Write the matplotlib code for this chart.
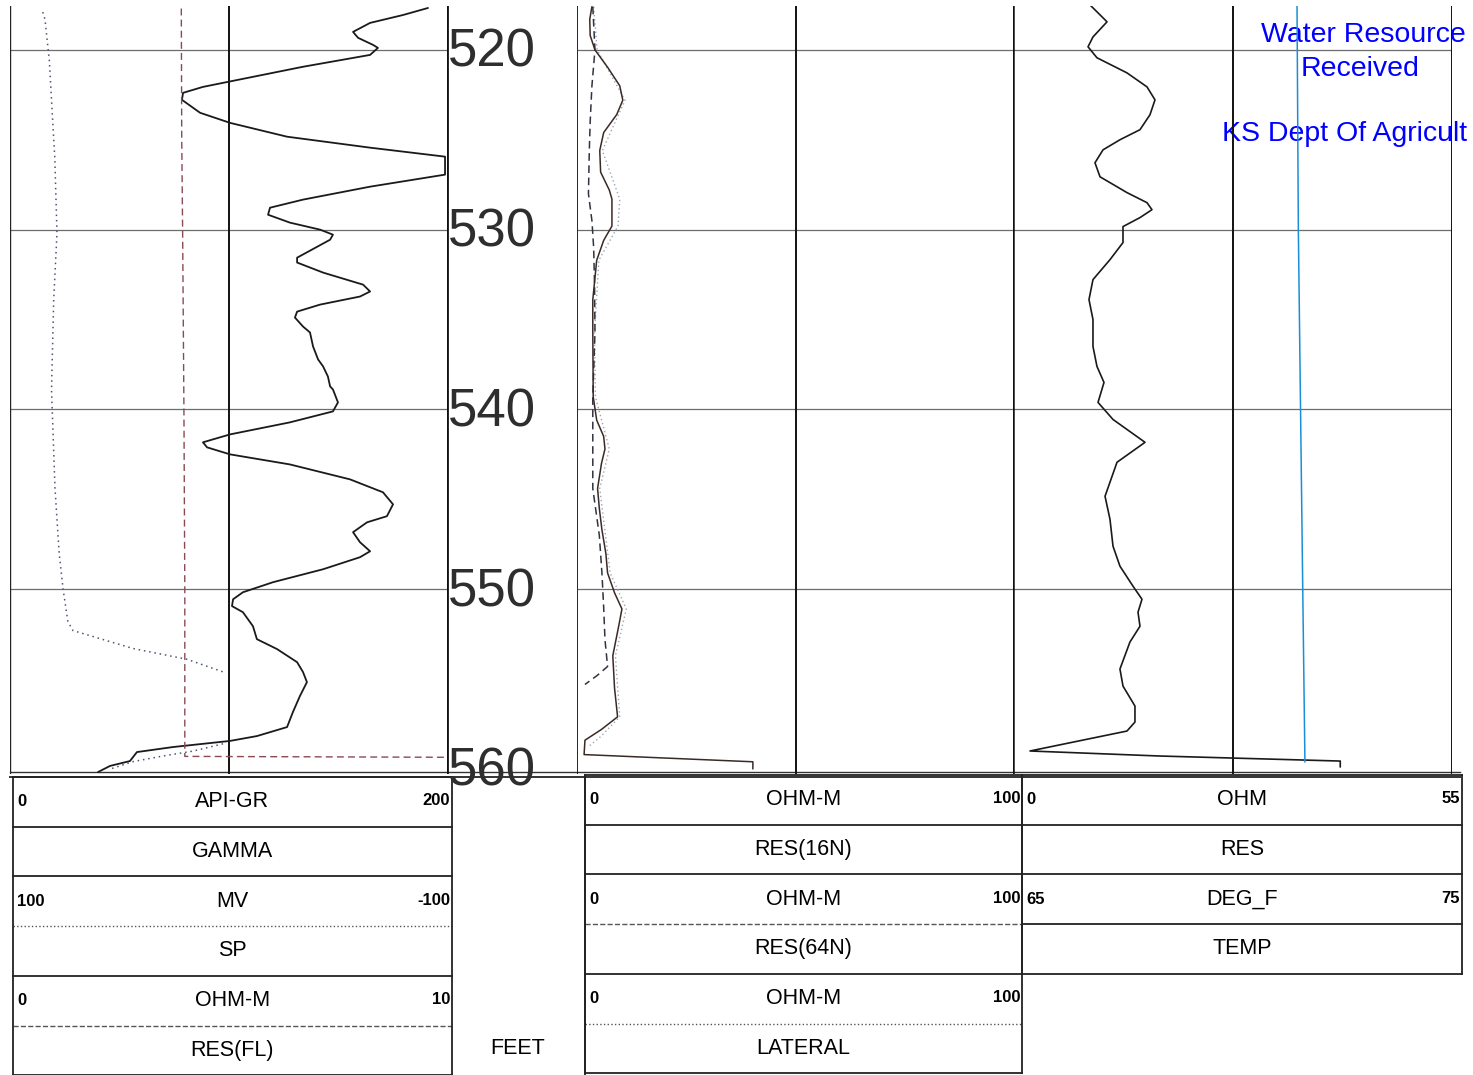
import numpy as np
import matplotlib
matplotlib.use('Agg')
import matplotlib.pyplot as plt
from matplotlib.transforms import offset_copy

plt.rcParams['font.family'] = ['Liberation Sans', 'DejaVu Sans']

W, H = 1473, 1075

# depth range of the log tracks (feet)
TOP, BOT = 517.56, 560.28
depth_ticks = [520, 530, 540, 550, 560]

# track 1 : gamma ray (API), SP (mV), RES(FL) (ohm-m)
gr_depth = [517.67, 518.06, 518.5, 519.0, 519.33, 519.72, 519.89, 520.28, 520.94, 521.5, 522.06, 522.39,
            522.78, 523.5, 524.06, 524.83, 525.44, 525.94, 526.94, 527.61, 528.33, 528.78, 529.17, 529.61,
            530.0, 530.28, 530.56, 531.56, 531.83, 532.39, 533.06, 533.44, 533.72, 534.17, 534.56, 534.89,
            535.39, 535.72, 536.5, 537.22, 537.61, 538.17, 538.72, 538.89, 539.61, 540.11, 540.72, 541.39,
            541.83, 542.11, 542.5, 543.06, 543.89, 544.61, 545.28, 545.94, 546.28, 546.83, 547.39, 547.89,
            548.22, 548.89, 549.61, 550.17, 550.56, 550.94, 551.28, 552.06, 552.78, 553.33, 554.06, 554.61,
            555.17, 555.94, 556.83, 557.67, 558.17, 558.44, 558.78, 559.06, 559.56, 559.83, 560.17]
gr_api = [191.3, 179.9, 164.8, 157.0, 159.3, 166.1, 168.4, 164.8, 134.1, 111.2, 88.3, 79.2,
          78.7, 87.0, 100.7, 126.8, 164.8, 199.1, 199.1, 164.8, 134.1, 119.0, 118.1, 128.1,
          141.9, 147.8, 146.5, 131.4, 131.4, 143.3, 161.6, 164.8, 160.2, 141.9, 131.4, 130.4,
          134.1, 137.3, 138.7, 141.0, 143.3, 145.5, 146.5, 147.8, 150.1, 147.8, 128.1, 100.7,
          88.3, 90.2, 100.7, 128.1, 155.6, 170.7, 175.3, 172.5, 163.4, 157.0, 160.2, 164.8,
          160.2, 143.3, 120.4, 106.6, 102.1, 101.6, 106.6, 111.2, 113.0, 122.2, 131.4, 134.1,
          135.9, 132.7, 129.5, 126.8, 113.0, 100.7, 74.6, 58.1, 54.9, 45.8, 40.3]

sp_depth = [517.9, 518.3, 520.6, 522.8, 526.0, 530.2, 533.9, 538.9, 544.4, 548.0, 550.0, 551.8,
            552.3, 553.3, 553.9, 554.6, np.nan, 558.6, 559.0, 559.3, 559.6, 560.0]
sp_mv = [85, 84, 82, 81, 79.5, 78.5, 80, 81, 79.4, 77.5, 75.7, 73.5,
         71.2, 43.7, 19, 2.5, np.nan, 2.5, 16, 31, 44, 54]

fl_depth = [517.7, 525.0, 530.0, 540.0, 550.0, 559.0, 559.3, 559.35]
fl_ohm = [3.92, 3.93, 3.95, 3.98, 4.0, 4.0, 4.0, 9.95]

# track 2 : RES(16N), RES(64N), LATERAL (ohm-m)
n16_depth = [517.6, 518.3, 519.2, 520.0, 521.0, 522.0, 522.8, 523.6, 524.6, 525.6, 526.8, 527.8,
             528.3, 529.8, 530.6, 531.7, 533.9, 535.7, 539.3, 540.6, 541.5, 542.2, 543.0, 544.4,
             545.5, 546.7, 548.0, 549.1, 550.2, 551.1, 552.0, 553.7, 555.5, 557.1, 557.8, 558.4,
             559.2, 559.6, 560.0]
n16_ohm = [3.2, 2.7, 2.8, 3.9, 6.9, 9.6, 10.3, 8.9, 5.9, 5.0, 5.2, 7.2,
           7.8, 7.8, 5.9, 4.3, 3.4, 3.4, 3.5, 4.3, 5.9, 6.2, 5.4, 4.5,
           4.9, 5.5, 6.4, 6.8, 8.4, 10.1, 9.4, 8.0, 8.4, 9.1, 5.4, 1.6,
           1.4, 40.2, 40.2]

n64_depth = [517.6, 520.0, 522.0, 524.0, 525.6, 528.0, 529.5, 531.0, 533.0, 535.7, 539.3, 542.0,
             544.4, 547.0, 549.1, 551.0, 552.8, 554.3, 554.8, 555.3]
n64_ohm = [3.4, 3.9, 3.2, 2.8, 2.6, 2.4, 3.2, 3.6, 3.8, 3.9, 3.4, 3.4,
           3.4, 4.9, 5.5, 5.9, 6.2, 6.8, 4.4, 1.6]

lat_depth = [517.6, 520.0, 522.8, 525.6, 528.3, 529.8, 531.7, 535.7, 539.3, 542.2, 544.4, 549.1,
             551.1, 553.7, 557.1, 558.2, 558.8]
lat_ohm = [3.6, 4.4, 10.8, 5.6, 9.6, 9.2, 4.8, 3.8, 4.0, 7.2, 5.0, 7.4,
           11.1, 8.6, 9.6, 5.2, 2.2]

# track 3 : RES (ohm) and TEMP (deg F)
res_depth = [517.5, 518.44, 519.28, 519.83, 520.44, 521.28, 522.06, 522.78, 523.61, 524.44, 525.0, 525.56,
             526.28, 527.06, 527.94, 528.5, 528.89, 529.33, 529.83, 530.72, 531.67, 532.78, 533.89, 535.0,
             536.5, 537.61, 538.5, 539.61, 540.56, 541.83, 542.94, 544.83, 546.11, 547.61, 548.72, 549.83,
             550.56, 551.28, 552.06, 552.94, 554.44, 555.39, 556.5, 557.39, 557.89, 559.0, 559.28, 559.56,
             559.89]
res_ohm = [9.65, 11.78, 10.02, 9.4, 10.52, 14.28, 16.79, 17.79, 17.16, 15.91, 13.4, 11.28,
           10.27, 10.9, 14.28, 16.79, 17.41, 15.91, 13.78, 13.78, 12.15, 10.02, 9.52, 10.02,
           10.02, 10.52, 11.4, 10.65, 12.53, 16.54, 13.03, 11.53, 12.15, 12.53, 13.4, 15.03,
           16.16, 15.66, 15.91, 14.65, 13.4, 13.78, 15.28, 15.28, 14.28, 2.13, 18.4, 41.0,
           41.0]

temp_depth = [517.6, 530.0, 540.0, 550.0, 559.6]
temp_degf = [71.47, 71.5, 71.55, 71.6, 71.65]

# header blocks: (units, scale left, scale right, line style, curve name)
head1 = [('API-GR', '0', '200', '-', 'GAMMA'),
         ('MV', '100', '-100', ':', 'SP'),
         ('OHM-M', '0', '10', '--', 'RES(FL)')]
head2 = [('OHM-M', '0', '100', '-', 'RES(16N)'),
         ('OHM-M', '0', '100', '--', 'RES(64N)'),
         ('OHM-M', '0', '100', ':', 'LATERAL')]
head3 = [('OHM', '0', '55', '-', 'RES'),
         ('DEG_F', '65', '75', '-', 'TEMP')]

fig = plt.figure(figsize=(W / 100, H / 100), dpi=100)

# background axes in pixel units for frame and header
bg = fig.add_axes([0, 0, 1, 1])
bg.set_xlim(0, W)
bg.set_ylim(H, 0)
bg.axis('off')


def track(x0, x1, y0=6, y1=774):
    ax = fig.add_axes([x0 / W, 1 - y1 / H, (x1 - x0) / W, (y1 - y0) / H])
    ax.set_ylim(BOT, TOP)
    ax.patch.set_alpha(0)
    ax.set_xticks([])
    ax.set_yticks([])
    for s in ax.spines.values():
        s.set_visible(False)
    return ax


def twin(ax, lim):
    t = ax.twiny()
    t.set_xlim(*lim)
    t.set_ylim(BOT, TOP)
    t.set_xticks([])
    t.set_yticks([])
    for s in t.spines.values():
        s.set_visible(False)
    return t


def grid(ax):
    for d in depth_ticks[:-1]:
        ax.axhline(d, color='#6d6d6d', lw=0.9, zorder=1)
    ax.axvline(0.5 * sum(ax.get_xlim()), color='#111111', lw=1.4, zorder=1)


curve = dict(solid_joinstyle='round', solid_capstyle='round')

# track 1
t1 = track(10, 447)
t1.set_xlim(0, 200)
grid(t1)
t1.axvline(0, color='#222222', lw=1.0)
sp_ax = twin(t1, (100, -100))
fl_ax = twin(t1, (0, 10))
fl_ax.plot(fl_ohm, fl_depth, color='#8a4a55', lw=1.0, ls=(0, (5, 3)))
sp_ax.plot(sp_mv, sp_depth, color='#4a5670', lw=1.1, ls=(0, (1, 2.5)))
t1.plot(gr_api, gr_depth, color='#1a1a1a', lw=1.3, clip_on=False, **curve)

# depth track
td = track(447, 578)
td.set_xlim(0, 1)
lab_tr = offset_copy(td.transData, fig=fig, x=0, y=-3, units='dots')
for d in depth_ticks:
    td.text(0.005, d, str(d), fontsize=38, color='#2e2e2e', ha='left', va='center',
            transform=lab_tr, clip_on=False)
td.axvline(0, color='#111111', lw=2.0)
td.axvline(1, color='#111111', lw=2.0)

# track 2
t2 = track(578, 1013)
t2.set_xlim(0, 100)
grid(t2)
t2.plot(lat_ohm, lat_depth, color='#9aa6b6', lw=1.0, ls=(0, (1, 2)))
t2.plot(n64_ohm, n64_depth, color='#2f3440', lw=1.1, ls=(0, (5, 3)))
t2.plot(n16_ohm, n16_depth, color='#3a2a26', lw=1.1, **curve)

# track 3
t3 = track(1013, 1452)
t3.set_xlim(0, 55)
grid(t3)
t3.axvline(0, color='#111111', lw=1.8)
t3.axvline(55, color='#111111', lw=1.4)
tt = twin(t3, (65, 75))
tt.plot(temp_degf, temp_depth, color='#1b8fd6', lw=1.1)
t3.plot(res_ohm, res_depth, color='#1a1a1a', lw=1.2, **curve)

# bottom double line of the log tracks
bg.plot([10, 1460], [772, 772], color='#333333', lw=1.0)
bg.plot([10, 1460], [777, 777], color='#333333', lw=1.4)


def header(blocks, x0, x1, y0, row=49.7):
    xc = 0.5 * (x0 + x1)
    y = y0
    bg.plot([x0, x1], [y, y], color='#222222', lw=1.3)
    for unit, lo, hi, ls, name in blocks:
        yl = y + row
        bg.text(x0 + 4, y + row / 2, lo, fontsize=12, fontweight='bold', ha='left', va='center')
        bg.text(x1 - 2, y + row / 2 - 1, hi, fontsize=12, fontweight='bold', ha='right', va='center')
        bg.text(xc, y + row / 2, unit, fontsize=15.5, ha='center', va='center')
        lw = 1.3 if ls == '-' else 1.0
        col = '#222222' if ls == '-' else '#555555'
        bg.plot([x0, x1], [yl, yl], color=col, lw=lw, ls=ls)
        bg.text(xc, yl + row / 2, name, fontsize=15.5, ha='center', va='center')
        y = yl + row
        bg.plot([x0, x1], [y, y], color='#222222', lw=1.3)
    bg.plot([x0, x0], [y0, y], color='#222222', lw=1.3)
    bg.plot([x1, x1], [y0, y], color='#222222', lw=1.3)


header(head1, 13, 452, 777)
header(head2, 585, 1022, 775)
header(head3, 1022, 1462, 775)
bg.plot([585, 585], [777, 1075], color='#222222', lw=1.3)
bg.text(518, 1049, 'FEET', fontsize=15.5, ha='center', va='center')

# stamp (cut at the page edge in the scan)
bg.text(1261, 35, 'Water Resource', fontsize=20.5, color='#0000ff', ha='left', va='center')
bg.text(1360, 69, 'Received', fontsize=20.5, color='#0000ff', ha='center', va='center')
bg.text(1222, 134, 'KS Dept Of Agricult', fontsize=20.5, color='#0000ff', ha='left', va='center')

fig.savefig('out.png', dpi=100, facecolor='white')
